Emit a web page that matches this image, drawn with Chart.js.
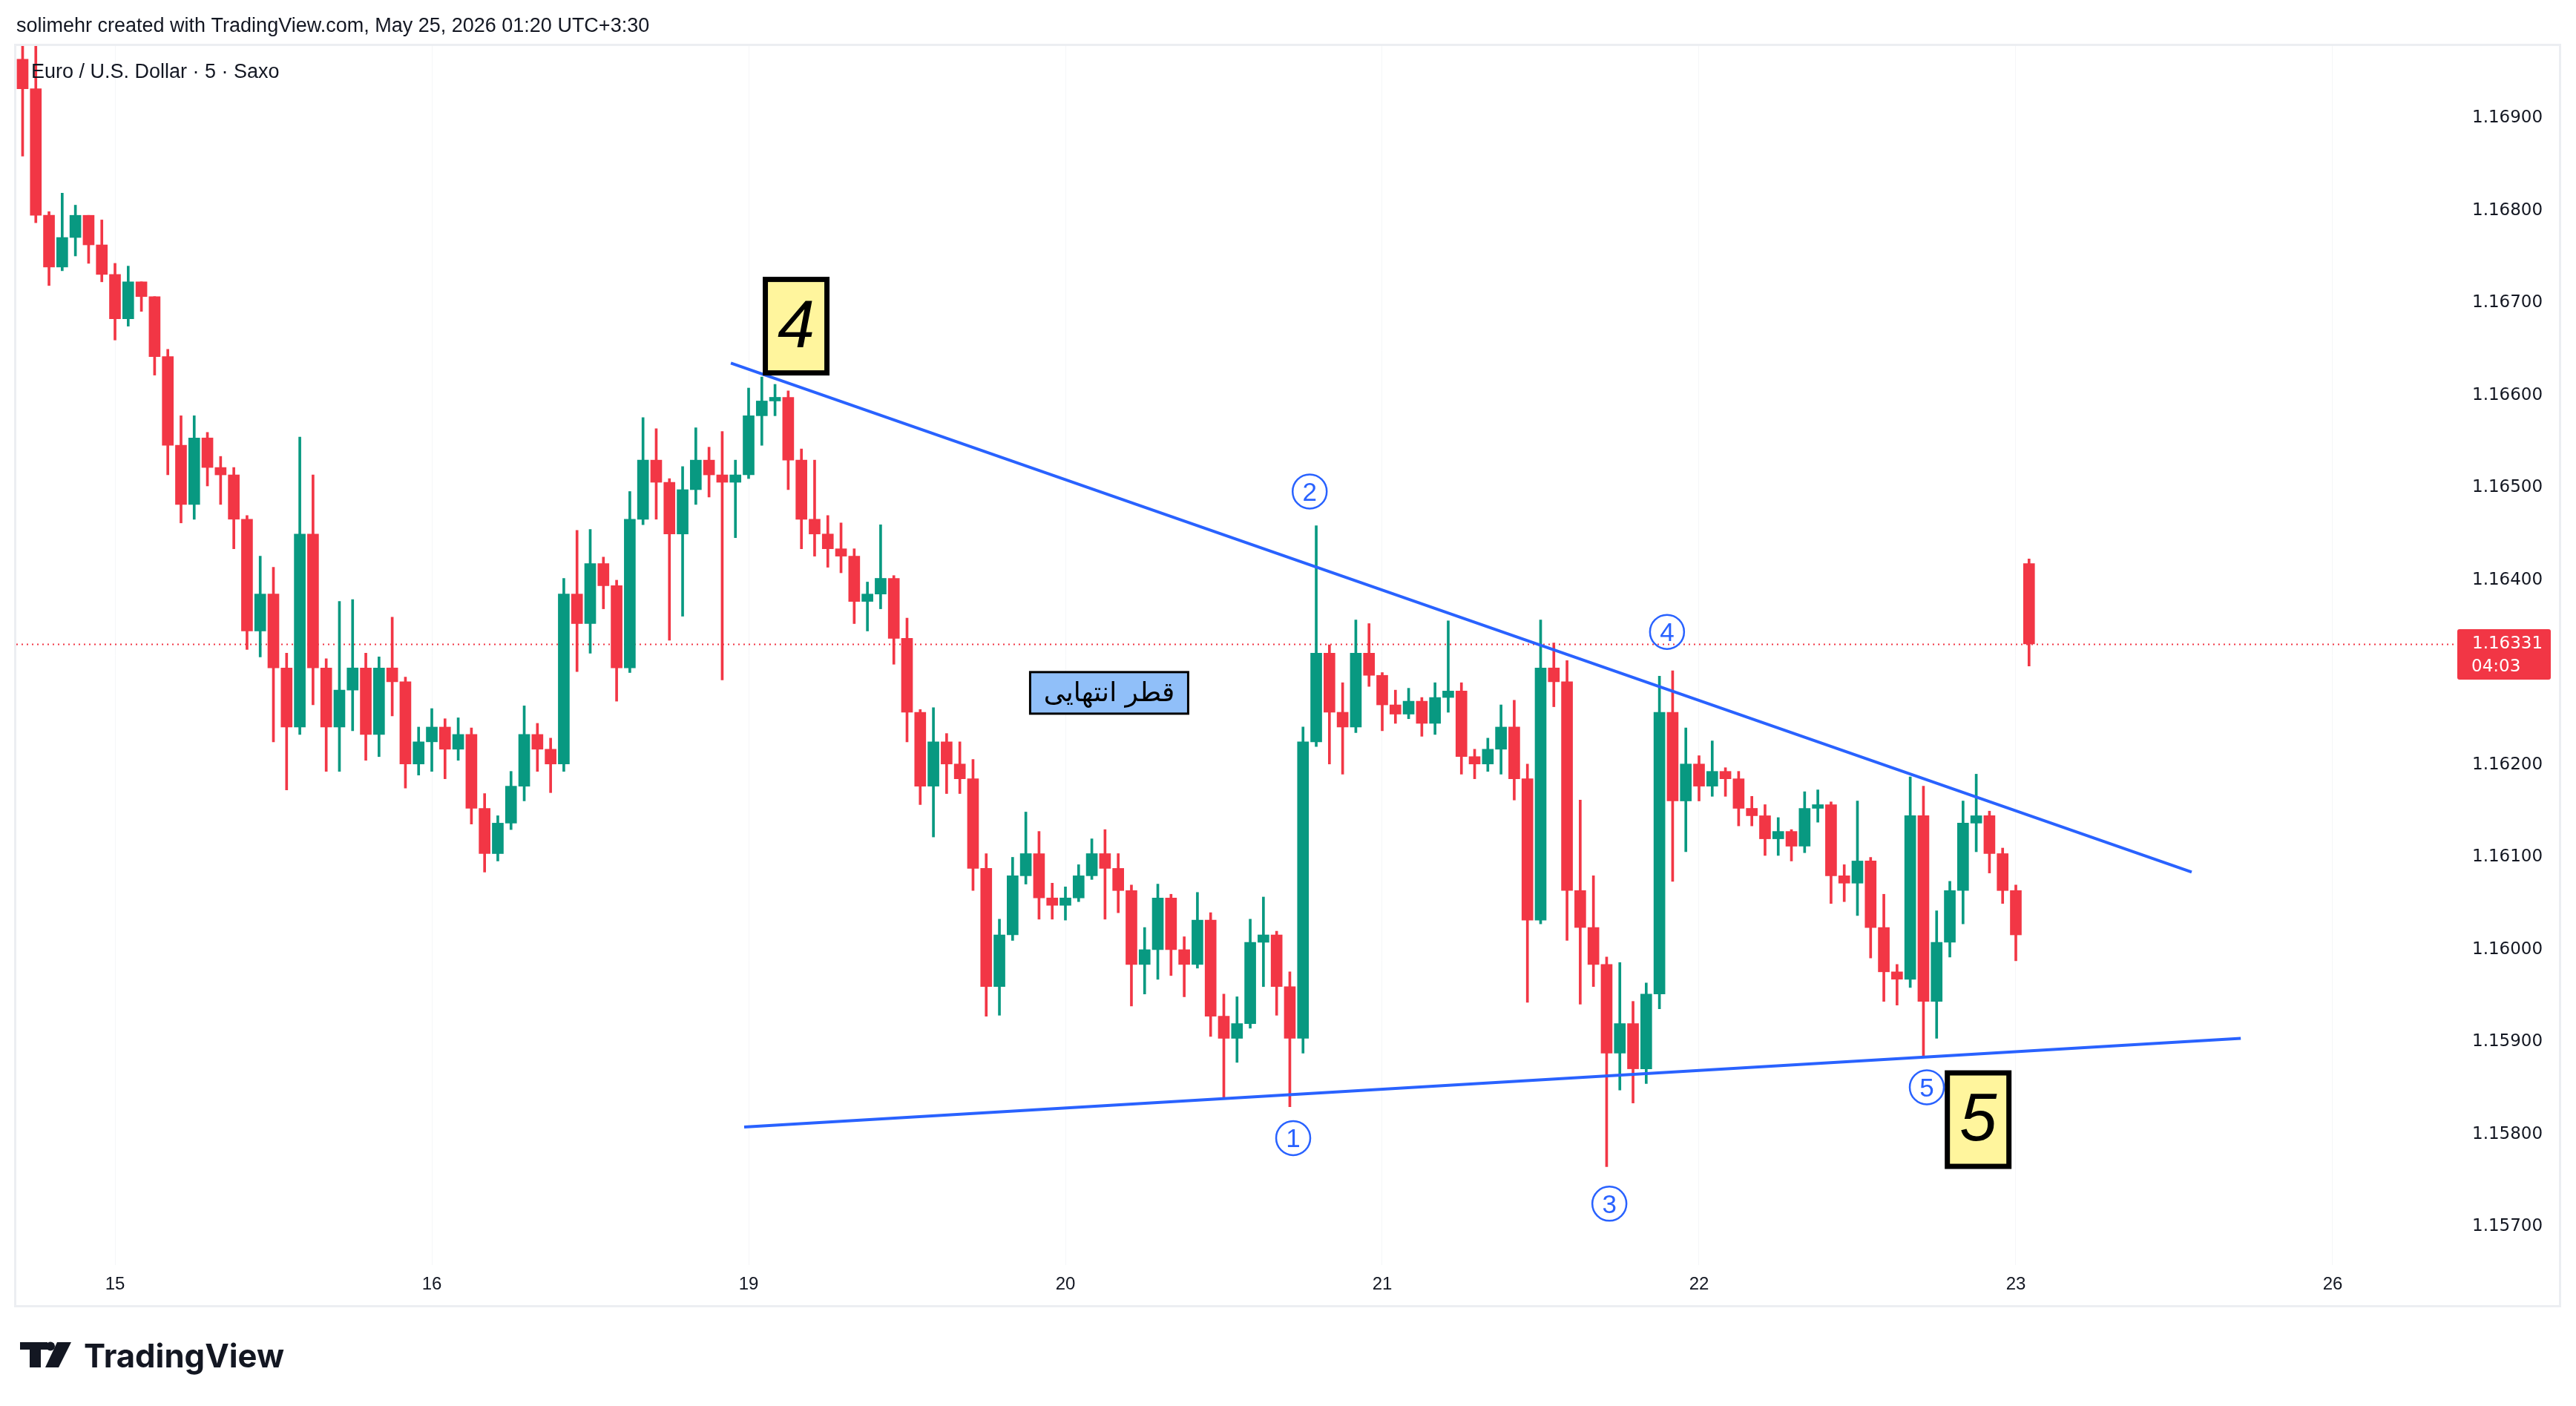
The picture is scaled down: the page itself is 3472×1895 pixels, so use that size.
<!DOCTYPE html>
<html>
<head>
<meta charset="utf-8">
<script src="https://cdn.jsdelivr.net/npm/chart.js@4.4.1/dist/chart.umd.min.js"></script>
<style>
    html, body { margin: 0; padding: 0; background: #fff; overflow: hidden; }
    canvas { display: block; }
</style>
</head>
<body>
<canvas id="chart" width="3472" height="1895" style="width:3472px;height:1895px"></canvas>
<script>
// --- DATA (EURUSD, one candle per hour) ---
const dayLabels = ['15', '16', '19', '20', '21', '22', '23', '26'];
const priceTicks = [1.157, 1.158, 1.159, 1.160, 1.161, 1.162, 1.164, 1.165, 1.166, 1.167, 1.168, 1.169];

const firstOpen = 1.16964;
const weekOpen = 1.16418;          // gap open of the last candle
const lastPrice = 1.16331;
const countdown = '04:03';

const highs = [
    1.16984, 1.16981, 1.16799, 1.16819, 1.16806, 1.16793, 1.16790, 1.16743, 1.16740, 1.16716,
    1.16703, 1.16650, 1.16578, 1.16578, 1.16560, 1.16534, 1.16522, 1.16470, 1.16426, 1.16414,
    1.16321, 1.16555, 1.16514, 1.16315, 1.16377, 1.16379, 1.16321, 1.16317, 1.16360, 1.16295,
    1.16241, 1.16261, 1.16250, 1.16251, 1.16240, 1.16169, 1.16145, 1.16193, 1.16264, 1.16245,
    1.16229, 1.16402, 1.16454, 1.16455, 1.16425, 1.16400, 1.16496, 1.16576, 1.16564, 1.16510,
    1.16523, 1.16565, 1.16544, 1.16561, 1.16530, 1.16608, 1.16620, 1.16612, 1.16605, 1.16542,
    1.16530, 1.16470, 1.16462, 1.16434, 1.16398, 1.16460, 1.16405, 1.16359, 1.16260, 1.16262,
    1.16234, 1.16225, 1.16206, 1.16104, 1.16033, 1.16100, 1.16149, 1.16128, 1.16072, 1.16068,
    1.16092, 1.16120, 1.16130, 1.16104, 1.16070, 1.16024, 1.16071, 1.16060, 1.16014, 1.16062,
    1.16040, 1.15952, 1.15949, 1.16033, 1.16057, 1.16020, 1.15976, 1.16241, 1.16459, 1.16330,
    1.16289, 1.16357, 1.16353, 1.16300, 1.16281, 1.16283, 1.16273, 1.16289, 1.16356, 1.16289,
    1.16217, 1.16229, 1.16265, 1.16270, 1.16201, 1.16357, 1.16332, 1.16313, 1.16162, 1.16080,
    1.15992, 1.15986, 1.15944, 1.15964, 1.16296, 1.16302, 1.16240, 1.16210, 1.16226, 1.16197,
    1.16193, 1.16166, 1.16157, 1.16143, 1.16130, 1.16171, 1.16173, 1.16160, 1.16092, 1.16161,
    1.16100, 1.16060, 1.15984, 1.16187, 1.16177, 1.16042, 1.16074, 1.16161, 1.16190, 1.16150,
    1.16110, 1.16070, 1.16423
];
const lows = [
    1.16859, 1.16787, 1.16719, 1.16735, 1.16751, 1.16743, 1.16723, 1.16660, 1.16675, 1.16691,
    1.16622, 1.16514, 1.16462, 1.16466, 1.16502, 1.16482, 1.16434, 1.16325, 1.16317, 1.16225,
    1.16173, 1.16233, 1.16265, 1.16193, 1.16193, 1.16237, 1.16205, 1.16209, 1.16253, 1.16175,
    1.16189, 1.16193, 1.16185, 1.16205, 1.16136, 1.16084, 1.16096, 1.16130, 1.16161, 1.16193,
    1.16170, 1.16193, 1.16301, 1.16321, 1.16369, 1.16269, 1.16300, 1.16460, 1.16466, 1.16335,
    1.16361, 1.16482, 1.16490, 1.16292, 1.16446, 1.16510, 1.16546, 1.16578, 1.16498, 1.16434,
    1.16426, 1.16414, 1.16408, 1.16353, 1.16345, 1.16369, 1.16309, 1.16225, 1.16157, 1.16122,
    1.16169, 1.16169, 1.16064, 1.15928, 1.15929, 1.16010, 1.16071, 1.16033, 1.16033, 1.16032,
    1.16052, 1.16076, 1.16033, 1.16040, 1.15939, 1.15952, 1.15968, 1.15972, 1.15949, 1.15980,
    1.15906, 1.15840, 1.15878, 1.15915, 1.15960, 1.15929, 1.15830, 1.15888, 1.16220, 1.16201,
    1.16190, 1.16235, 1.16285, 1.16237, 1.16245, 1.16250, 1.16231, 1.16233, 1.16257, 1.16190,
    1.16185, 1.16193, 1.16190, 1.16162, 1.15943, 1.16028, 1.16263, 1.16010, 1.15941, 1.15960,
    1.15765, 1.15848, 1.15834, 1.15855, 1.15936, 1.16074, 1.16106, 1.16161, 1.16166, 1.16166,
    1.16134, 1.16134, 1.16102, 1.16102, 1.16096, 1.16105, 1.16138, 1.16050, 1.16052, 1.16037,
    1.15991, 1.15944, 1.15940, 1.15959, 1.15885, 1.15904, 1.15992, 1.16028, 1.16106, 1.16083,
    1.16050, 1.15988, 1.16307
];
const closes = [
    1.16932, 1.16795, 1.16739, 1.16771, 1.16795, 1.16763, 1.16731, 1.16683, 1.16723, 1.16707,
    1.16642, 1.16546, 1.16482, 1.16554, 1.16522, 1.16514, 1.16466, 1.16345, 1.16385, 1.16305,
    1.16241, 1.16450, 1.16305, 1.16241, 1.16281, 1.16305, 1.16233, 1.16305, 1.16290, 1.16201,
    1.16225, 1.16241, 1.16217, 1.16233, 1.16153, 1.16104, 1.16137, 1.16177, 1.16233, 1.16217,
    1.16201, 1.16385, 1.16353, 1.16418, 1.16394, 1.16305, 1.16466, 1.16530, 1.16506, 1.16450,
    1.16498, 1.16530, 1.16514, 1.16506, 1.16514, 1.16578, 1.16594, 1.16598, 1.16530, 1.16466,
    1.16450, 1.16434, 1.16426, 1.16377, 1.16385, 1.16402, 1.16337, 1.16257, 1.16177, 1.16225,
    1.16201, 1.16185, 1.16088, 1.15960, 1.16016, 1.16080, 1.16104, 1.16056, 1.16048, 1.16056,
    1.16080, 1.16104, 1.16088, 1.16064, 1.15984, 1.16000, 1.16056, 1.16000, 1.15984, 1.16032,
    1.15928, 1.15904, 1.15920, 1.16008, 1.16016, 1.15960, 1.15904, 1.16225, 1.16321, 1.16257,
    1.16241, 1.16321, 1.16297, 1.16265, 1.16255, 1.16269, 1.16245, 1.16273, 1.16280, 1.16209,
    1.16201, 1.16217, 1.16241, 1.16185, 1.16032, 1.16305, 1.16290, 1.16064, 1.16024, 1.15984,
    1.15888, 1.15920, 1.15871, 1.15952, 1.16257, 1.16161, 1.16201, 1.16177, 1.16193, 1.16185,
    1.16153, 1.16145, 1.16120, 1.16128, 1.16112, 1.16153, 1.16157, 1.16080, 1.16072, 1.16096,
    1.16024, 1.15976, 1.15968, 1.16145, 1.15944, 1.16008, 1.16064, 1.16137, 1.16145, 1.16104,
    1.16064, 1.16016, 1.16331
];

// trend lines: x in day slots (0 = "15", 1 = "16", ...)
const upperLine = [{ x: 1.944, y: 1.16635 }, { x: 6.555, y: 1.16084 }];
const lowerLine = [{ x: 1.986, y: 1.15808 }, { x: 6.710, y: 1.15904 }];

const waveBoxes = [
    { label: '4', x: 2.150, y: 1.16675 },
    { label: '5', x: 5.881, y: 1.15816 }
];
const waveCircles = [
    { label: '1', x: 3.719, y: 1.15796 },
    { label: '2', x: 3.771, y: 1.16496 },
    { label: '3', x: 4.717, y: 1.15725 },
    { label: '4', x: 4.899, y: 1.16344 },
    { label: '5', x: 5.719, y: 1.15851 }
];
const note = { text: 'قطر انتهایی', x: 3.138, y: 1.16278 };

// --- CANDLE BUILD ---
const UP = '#089981';
const DOWN = '#f23645';
const opens = closes.map((c, i) => i === 0 ? firstOpen : closes[i - 1]);
opens[opens.length - 1] = weekOpen;
const slotOf = i => (i - 7) / 24;     // hourly candles, "15" opens at the 8th

const wickData = closes.map((c, i) => ({
    x: slotOf(i),
    y: [Math.min(lows[i], opens[i], c), Math.max(highs[i], opens[i], c)]
}));
const bodyData = closes.map((c, i) => ({ x: slotOf(i), y: [opens[i], c] }));
const candleColors = closes.map((c, i) => c >= opens[i] ? UP : DOWN);

// --- DRAWING HELPERS ---
const INK = '#131722';
const BLUE = '#2962ff';

function drawLogo(ctx, x, y) {
    ctx.save();
    ctx.fillStyle = INK;
    ctx.fillRect(x, y, 37, 10);            // T bar
    ctx.fillRect(x + 13, y, 15, 34);       // T stem
    ctx.beginPath();
    ctx.arc(x + 41, y + 5.5, 6, 0, Math.PI * 2);
    ctx.fill();
    ctx.beginPath();                       // slash
    ctx.moveTo(x + 50, y);
    ctx.lineTo(x + 69, y);
    ctx.lineTo(x + 52, y + 34);
    ctx.lineTo(x + 34, y + 34);
    ctx.closePath();
    ctx.fill();
    ctx.font = 'bold 46px Inter';
    const w = ctx.measureText('TradingView').width;
    const size = 46 * 270 / w;
    ctx.font = `bold ${size}px Inter`;
    ctx.textBaseline = 'alphabetic';
    ctx.fillText('TradingView', x + 86, y + 34);
    ctx.restore();
}

const overlay = {
    id: 'overlay',
    beforeDatasetsDraw(chart) {
        const { ctx, chartArea: a, scales: { y } } = chart;
        const py = Math.round(y.getPixelForValue(lastPrice)) + 0.5;
        ctx.save();
        ctx.strokeStyle = DOWN;
        ctx.lineWidth = 2;
        ctx.setLineDash([2, 5]);
        ctx.beginPath();
        ctx.moveTo(a.left, py);
        ctx.lineTo(a.right, py);
        ctx.stroke();
        ctx.restore();
    },
    afterDatasetsDraw(chart) {
        const { ctx, scales: { x, y } } = chart;
        ctx.save();

        // yellow wave boxes
        waveBoxes.forEach(b => {
            const cx = x.getPixelForValue(b.x), cy = y.getPixelForValue(b.y);
            const w = 90, h = 133, bw = 7;
            ctx.fillStyle = '#000';
            ctx.fillRect(cx - w / 2, cy - h / 2, w, h);
            ctx.fillStyle = '#fff59d';
            ctx.fillRect(cx - w / 2 + bw, cy - h / 2 + bw, w - 2 * bw, h - 2 * bw);
            ctx.fillStyle = '#000';
            ctx.font = 'italic 90px "Liberation Sans"';
            ctx.textAlign = 'center';
            ctx.textBaseline = 'alphabetic';
            ctx.fillText(b.label, cx, cy + 28);
        });

        // circled sub-wave numbers
        waveCircles.forEach(c => {
            const cx = x.getPixelForValue(c.x), cy = y.getPixelForValue(c.y);
            ctx.strokeStyle = BLUE;
            ctx.lineWidth = 2.5;
            ctx.beginPath();
            ctx.arc(cx, cy, 23, 0, Math.PI * 2);
            ctx.stroke();
            ctx.fillStyle = BLUE;
            ctx.font = '35px "Liberation Sans"';
            ctx.textAlign = 'center';
            ctx.textBaseline = 'alphabetic';
            ctx.fillText(c.label, cx, cy + 12.5);
        });

        // persian note
        const nx = x.getPixelForValue(note.x), ny = y.getPixelForValue(note.y);
        const nw = 216, nh = 59;
        ctx.fillStyle = '#000';
        ctx.fillRect(nx - nw / 2, ny - nh / 2, nw, nh);
        ctx.fillStyle = '#90bff9';
        ctx.fillRect(nx - nw / 2 + 3, ny - nh / 2 + 3, nw - 6, nh - 6);
        ctx.fillStyle = '#000';
        ctx.font = '36px "DejaVu Sans"';
        let tw = ctx.measureText(note.text).width;
        const fs = Math.min(36, 36 * 192 / tw);
        ctx.font = `${fs}px "DejaVu Sans"`;
        ctx.textAlign = 'center';
        ctx.textBaseline = 'middle';
        ctx.fillText(note.text, nx, ny + 2);
        ctx.restore();
    },
    afterDraw(chart) {
        const { ctx, chartArea: a, scales: { x, y } } = chart;
        ctx.save();

        // outer frame
        ctx.strokeStyle = '#eceef2';
        ctx.lineWidth = 3;
        ctx.strokeRect(a.left - 1.5, a.top - 1.5, y.right - a.left + 3, x.bottom - a.top + 3);

        // header and symbol legend
        ctx.fillStyle = INK;
        ctx.textAlign = 'left';
        ctx.textBaseline = 'alphabetic';
        ctx.font = '27px "Liberation Sans"';
        ctx.fillText('solimehr created with TradingView.com, May 25, 2026 01:20 UTC+3:30', 22, 43);
        ctx.fillText('Euro / U.S. Dollar \u00b7 5 \u00b7 Saxo', 42, 105);

        // last price tag
        const py = y.getPixelForValue(lastPrice);
        ctx.fillStyle = DOWN;
        ctx.beginPath();
        ctx.roundRect(y.left + 4, py - 20, 126, 68, 3);
        ctx.fill();
        ctx.fillStyle = '#fff';
        ctx.font = '23px "DejaVu Sans"';
        ctx.textBaseline = 'middle';
        ctx.fillText(lastPrice.toFixed(5), y.left + 24, py);
        ctx.fillText(countdown, y.left + 23, py + 31);

        drawLogo(ctx, 27, 1809);
        ctx.restore();
    }
};

// --- CHART ---
const ctx = document.getElementById('chart').getContext('2d');
new Chart(ctx, {
    type: 'bar',
    data: {
        datasets: [
            {
                type: 'line', data: upperLine, borderColor: BLUE, borderWidth: 4,
                pointRadius: 0, order: 0, clip: 0
            },
            {
                type: 'line', data: lowerLine, borderColor: BLUE, borderWidth: 4,
                pointRadius: 0, order: 0, clip: 0
            },
            {
                data: bodyData, backgroundColor: candleColors, barThickness: 15,
                minBarLength: 2, grouped: false, borderSkipped: false, order: 1, clip: 0
            },
            {
                data: wickData, backgroundColor: candleColors, barThickness: 3,
                grouped: false, borderSkipped: false, order: 2, clip: 0
            }
        ]
    },
    options: {
        responsive: false,
        devicePixelRatio: 1,
        animation: false,
        events: [],
        layout: { padding: { left: 22, top: 62, right: 23, bottom: 136 } },
        plugins: { legend: { display: false }, tooltip: { enabled: false } },
        scales: {
            x: {
                type: 'linear',
                offset: false,
                min: -0.3115,
                max: 7.3841,
                afterBuildTicks: s => { s.ticks = dayLabels.map((_, i) => ({ value: i })); },
                afterFit: s => { s.height = 54; },
                ticks: {
                    autoSkip: false, maxRotation: 0, padding: 12, color: INK,
                    font: { family: 'Liberation Sans', size: 24 },
                    callback: (v, i) => dayLabels[i]
                },
                grid: { offset: false, color: '#f5f6f8', drawTicks: false },
                border: { display: false }
            },
            y: {
                position: 'right',
                min: 1.156586,
                max: 1.169783,
                afterBuildTicks: s => { s.ticks = priceTicks.map(v => ({ value: v })); },
                afterFit: s => { s.width = 141; },
                ticks: {
                    padding: 24, color: INK,
                    font: { family: 'DejaVu Sans', size: 23 },
                    callback: v => v.toFixed(5)
                },
                grid: { display: false, drawTicks: false },
                border: { display: false }
            }
        }
    },
    plugins: [overlay]
});
</script>
</body>
</html>
